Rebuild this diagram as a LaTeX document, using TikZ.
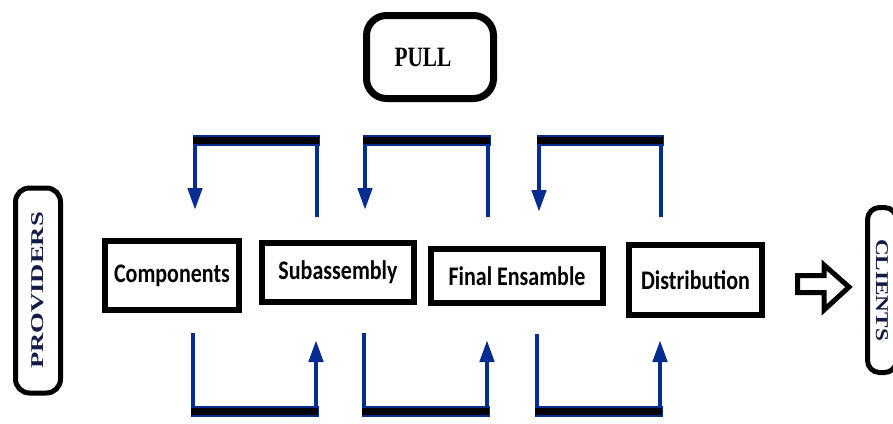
\documentclass[tikz,border=0pt]{standalone}
\usepackage{fontspec}
\setmainfont{Liberation Serif}
\newfontfamily\stagefont{Carlito}
\usetikzlibrary{arrows.meta}
\definecolor{flowblue}{RGB}{5,45,145}
\definecolor{sidetext}{RGB}{20,28,70}
\newcommand{\tallword}[1]{\scalebox{1}[1.22]{#1}}
\tikzset{
  stage/.style={draw, line width=6pt, inner sep=0pt, font=\stagefont\bfseries\fontsize{22}{26}\selectfont},
  party/.style={draw, line width=5pt, rounded corners=14pt, inner sep=0pt, text=sidetext, font=\bfseries\fontsize{18}{20}\selectfont},
  flow/.style={draw=flowblue, line width=4.5pt, -{Triangle[length=22pt,width=14pt]}},
  baredge/.style={flowblue, line width=11pt, shorten <=-2.5pt, shorten >=-2.5pt},
  barcore/.style={black, line width=7pt, shorten <=-2pt, shorten >=-2pt}
}
\begin{document}
\begin{tikzpicture}[x=1pt,y=-1pt]
\useasboundingbox (0,0) rectangle (893,423);

% stages of the chain
\node[stage, minimum width=134pt, minimum height=69pt] (comp) at (172,275.5) {\tallword{Components}};
\node[stage, minimum width=152pt, minimum height=59pt] (sub) at (338,272.5) {\tallword{Subassembly}};
\node[stage, minimum width=172pt, minimum height=54pt] (final) at (517,276) {\tallword{Final Ensamble}};
\node[stage, minimum width=133pt, minimum height=70pt] (dist) at (695.5,280) {\tallword{Distribution}};

% ends of the chain
\node[party, minimum width=45pt, minimum height=205pt] (prov) at (38,290.5) {\rotatebox{90}{\scalebox{1.48}[1]{PROVIDERS}}};
\node[party, rounded corners=12pt, minimum width=29pt, minimum height=165pt] (clients) at (882,290) {\rotatebox{-90}{\scalebox{1.29}[1]{CLIENTS}}};
\node[draw, line width=7pt, rounded corners=20pt, minimum width=127pt, minimum height=83pt, font=\bfseries\fontsize{28}{30}\selectfont] (pull) at (430,57) {\scalebox{0.76}[1]{PULL}\kern14pt};

% pull loops above
\coordinate (ua1) at (317,217); \coordinate (ub1) at (317,140.5); \coordinate (uc1) at (195,140.5); \coordinate (ud1) at (195,210);
\coordinate (ua2) at (488,217); \coordinate (ub2) at (488,140.5); \coordinate (uc2) at (365,140.5); \coordinate (ud2) at (365,210);
\coordinate (ua3) at (661,217); \coordinate (ub3) at (661,140.5); \coordinate (uc3) at (539,140.5); \coordinate (ud3) at (539,212);
\draw[flow] (ua1) -- (ub1) -- (uc1) -- (ud1);
\draw[flow] (ua2) -- (ub2) -- (uc2) -- (ud2);
\draw[flow] (ua3) -- (ub3) -- (uc3) -- (ud3);
\draw[baredge] (uc1) -- (ub1); \draw[barcore] (uc1) -- (ub1);
\draw[baredge] (uc2) -- (ub2); \draw[barcore] (uc2) -- (ub2);
\draw[baredge] (uc3) -- (ub3); \draw[barcore] (uc3) -- (ub3);

% loops below
\coordinate (la1) at (193,333); \coordinate (lb1) at (193,411.5); \coordinate (lc1) at (316,411.5); \coordinate (ld1) at (316,340);
\coordinate (la2) at (364,333); \coordinate (lb2) at (364,411.5); \coordinate (lc2) at (487,411.5); \coordinate (ld2) at (487,340);
\coordinate (la3) at (537,334); \coordinate (lb3) at (537,411.5); \coordinate (lc3) at (660,411.5); \coordinate (ld3) at (660,340);
\draw[flow] (la1) -- (lb1) -- (lc1) -- (ld1);
\draw[flow] (la2) -- (lb2) -- (lc2) -- (ld2);
\draw[flow] (la3) -- (lb3) -- (lc3) -- (ld3);
\draw[baredge] (lb1) -- (lc1); \draw[barcore] (lb1) -- (lc1);
\draw[baredge] (lb2) -- (lc2); \draw[barcore] (lb2) -- (lc2);
\draw[baredge] (lb3) -- (lc3); \draw[barcore] (lb3) -- (lc3);

% hollow arrow to the clients
\draw[line width=5pt] (797.5,275.5) -- (824,275.5) -- (824,265) -- (849,287) -- (824,310) -- (824,292.5) -- (797.5,292.5) -- cycle;
\end{tikzpicture}
\end{document}
